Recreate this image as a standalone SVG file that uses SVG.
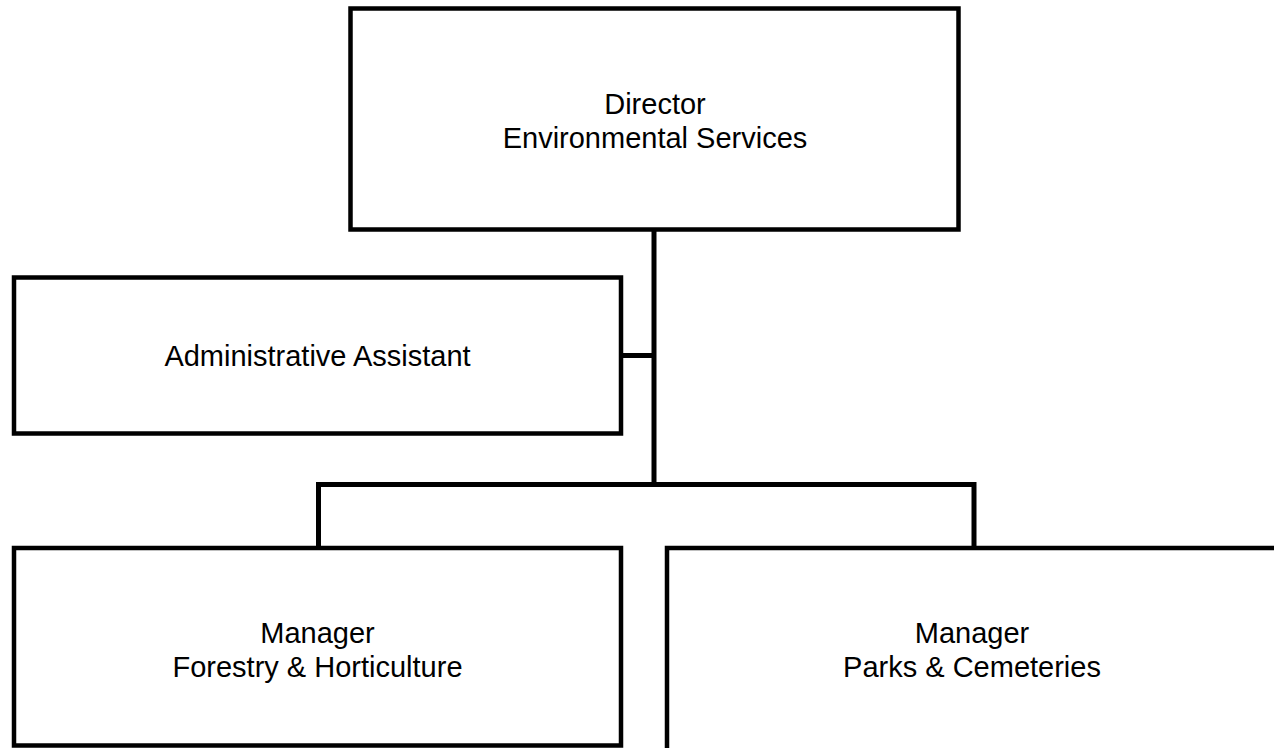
<svg xmlns="http://www.w3.org/2000/svg" width="1274" height="748" viewBox="0 0 1274 748">
  <style>
    .box { fill: #ffffff; stroke: #000000; stroke-width: 4.5; }
    .wire { fill: none; stroke: #000000; stroke-width: 5; stroke-linejoin: miter; }
    .label { font-family: "Liberation Sans", Arial, sans-serif; font-size: 29px; fill: #000000; text-anchor: middle; }
  </style>
  <rect width="1274" height="748" fill="#ffffff"/>

  <!-- reporting lines -->
  <g id="connectors">
    <path class="wire" d="M654 229 V484.5"/>
    <path class="wire" d="M621 355.5 H654"/>
    <path class="wire" d="M318.5 548 V484.5 H974 V548"/>
  </g>

  <g id="director">
    <rect class="box" x="350.5" y="8.5" width="608" height="221"/>
    <text class="label" x="655" y="114">Director</text>
    <text class="label" x="655" y="148">Environmental Services</text>
  </g>

  <g id="admin-assistant">
    <rect class="box" x="14" y="277.5" width="607" height="156"/>
    <text class="label" x="317.5" y="366">Administrative Assistant</text>
  </g>

  <g id="manager-forestry">
    <rect class="box" x="14" y="548" width="607" height="197.5"/>
    <text class="label" x="317.5" y="643">Manager</text>
    <text class="label" x="317.5" y="677">Forestry &amp; Horticulture</text>
  </g>

  <g id="manager-parks">
    <rect class="box" x="667" y="548" width="610" height="220"/>
    <text class="label" x="972" y="643">Manager</text>
    <text class="label" x="972" y="677">Parks &amp; Cemeteries</text>
  </g>
</svg>
